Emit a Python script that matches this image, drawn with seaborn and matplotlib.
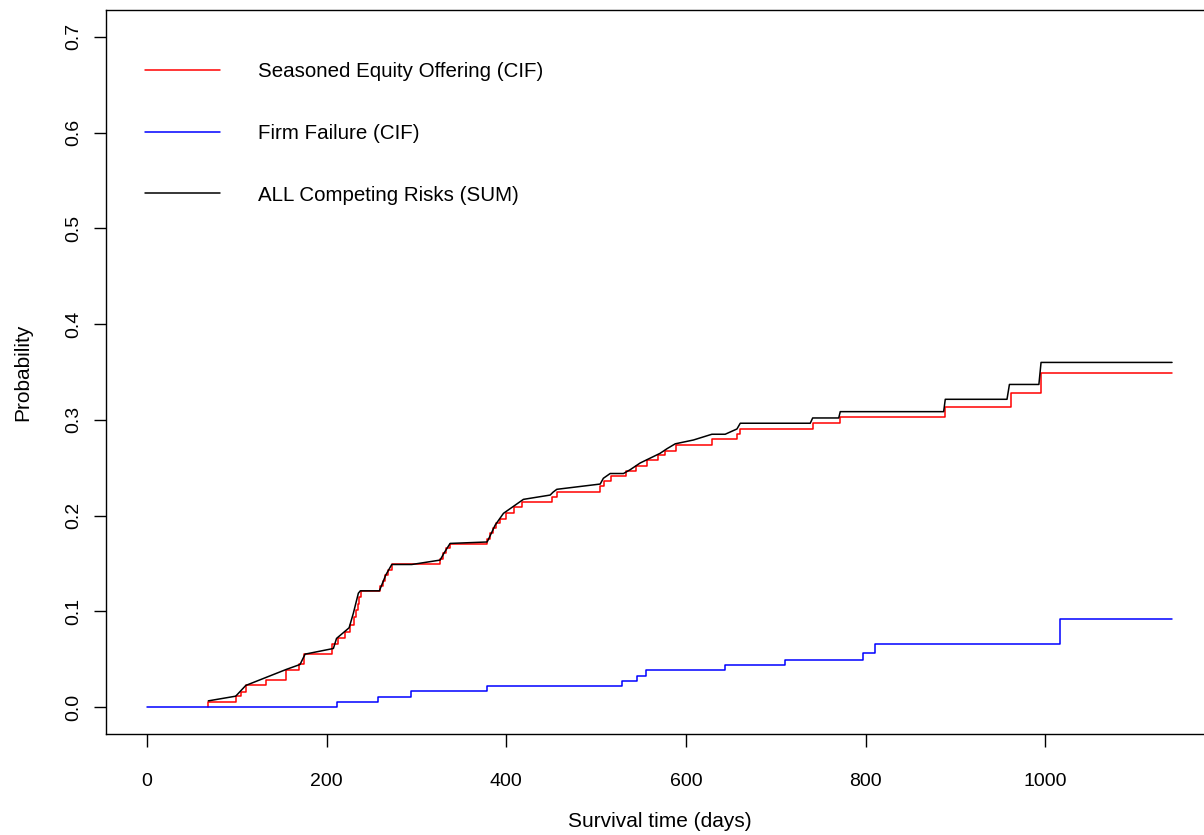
import matplotlib
matplotlib.use("Agg")
import matplotlib.pyplot as plt
import seaborn as sns
import pandas as pd

# ==== data (days, probability) ====
seo_time = [68.3, 68.3, 98.8, 104.7, 110, 132, 155, 169, 175, 206, 213, 220.5, 226, 231, 233, 235,
            236.5, 238, 259.5, 263, 265, 268.5, 272.5, 326, 329.6, 333, 337.4, 379, 382, 385.6,
            388.6, 393, 399.4, 409, 418, 450.7, 456, 504.5, 509, 516, 533, 544.5, 557, 569, 577,
            589, 629, 657, 659.6, 741, 771, 888.6, 962, 995, 1141]
seo_cif = [0.0, 0.0049, 0.0115, 0.016, 0.0227, 0.028, 0.039, 0.0446, 0.0554, 0.0665, 0.072, 0.078,
           0.086, 0.094, 0.101, 0.108, 0.115, 0.1215, 0.127, 0.132, 0.138, 0.143, 0.149, 0.155,
           0.1605, 0.166, 0.1705, 0.176, 0.1815, 0.1867, 0.192, 0.197, 0.203, 0.2087, 0.214,
           0.2197, 0.225, 0.231, 0.2365, 0.241, 0.247, 0.252, 0.258, 0.263, 0.268, 0.274, 0.28,
           0.285, 0.2905, 0.2965, 0.3027, 0.313, 0.328, 0.349, 0.349]

fail_time = [0, 212, 257.6, 293.7, 378.3, 529.3, 545.3, 555.7, 643.7, 710.5, 797.3, 810.7, 1016.7, 1141]
fail_cif = [0.0, 0.0055, 0.011, 0.0165, 0.022, 0.0275, 0.033, 0.0385, 0.044, 0.0495, 0.057, 0.0655,
            0.0916, 0.0916]

all_time = [68.3, 98.8, 110, 155, 170.4, 176, 203.8, 207.5, 211, 225, 229.7, 235.3, 237.5, 258.7,
            265.8, 272.5, 294.8, 326.3, 330.7, 337.4, 378.6, 379.7, 387.5, 396.8, 419, 448.8, 452,
            456.2, 504.5, 508, 515.6, 530.4, 537.9, 549, 560, 571, 579, 588, 608.3, 628.8, 643.6,
            656.7, 660.4, 738.3, 741, 770, 771.7, 886.8, 888.6, 957.3, 960, 992.8, 995.2, 1141]
all_sum = [0.0066, 0.0115, 0.0227, 0.0394, 0.0446, 0.0554, 0.0606, 0.0613, 0.0718, 0.0829, 0.098,
           0.119, 0.1215, 0.1215, 0.138, 0.149, 0.149, 0.1536, 0.161, 0.171, 0.1725, 0.1745, 0.19,
           0.2024, 0.217, 0.2215, 0.2245, 0.2275, 0.233, 0.239, 0.244, 0.244, 0.248, 0.255, 0.26,
           0.265, 0.27, 0.275, 0.279, 0.285, 0.285, 0.2905, 0.2965, 0.2965, 0.302, 0.302, 0.3086,
           0.3086, 0.3215, 0.3215, 0.337, 0.337, 0.36, 0.36]

labels = ["Seasoned Equity Offering (CIF)", "Firm Failure (CIF)", "ALL Competing Risks (SUM)"]

# ==== plot ====
sns.set_style("ticks")
plt.rcParams["font.family"] = ["Liberation Sans", "DejaVu Sans"]
plt.rcParams["text.color"] = "black"
plt.rcParams["axes.labelcolor"] = "black"
plt.rcParams["xtick.color"] = "black"
plt.rcParams["ytick.color"] = "black"

fig = plt.figure(figsize=(12.04, 8.35), dpi=100)
ax = fig.add_axes([106 / 1204, 101 / 835, 1107 / 1204, 724 / 835])

sns.lineplot(x=seo_time, y=seo_cif, ax=ax, color="red", lw=1.1, drawstyle="steps-post",
             estimator=None, label=labels[0])
sns.lineplot(x=fail_time, y=fail_cif, ax=ax, color="blue", lw=1.1, drawstyle="steps-post",
             estimator=None, label=labels[1])
sns.lineplot(x=all_time, y=all_sum, ax=ax, color="black", lw=1.1, estimator=None, label=labels[2])

ax.set_xlim(-45.6, 1186.6)
ax.set_ylim(-0.028, 0.728)
ax.set_xticks([0, 200, 400, 600, 800, 1000])
ax.set_yticks([0.0, 0.1, 0.2, 0.3, 0.4, 0.5, 0.6, 0.7])
ax.set_yticklabels(["0.0", "0.1", "0.2", "0.3", "0.4", "0.5", "0.6", "0.7"])
ax.tick_params(axis="both", labelsize=14, length=9, width=1)
ax.tick_params(axis="x", pad=19)
ax.tick_params(axis="y", pad=8, labelrotation=90)
for lab in ax.get_yticklabels():
    lab.set_va("center")
for sp in ax.spines.values():
    sp.set_linewidth(1)
    sp.set_color("black")

ax.set_xlabel("Survival time (days)", fontsize=15, labelpad=16)
ax.set_ylabel("Probability", fontsize=15, labelpad=24)

ax.legend(loc="upper left", bbox_to_anchor=(0.0352, 0.9275), frameon=False, fontsize=14.8,
          handlelength=3.66, handletextpad=1.85, labelspacing=2.07, borderpad=0, borderaxespad=0)

plt.savefig("out.png", dpi=100)
